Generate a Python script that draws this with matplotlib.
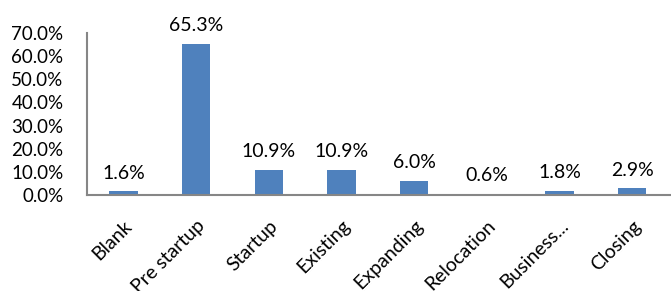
import matplotlib.pyplot as plt
from matplotlib.ticker import PercentFormatter

categories = ['Blank', 'Pre startup', 'Startup', 'Existing', 'Expanding',
              'Relocation', 'Business...', 'Closing']
values = [1.6, 65.3, 10.9, 10.9, 6.0, 0.6, 1.8, 2.9]
yticks = [0, 10, 20, 30, 40, 50, 60, 70]

plt.rcParams['font.family'] = ['Lato', 'DejaVu Sans']

fig = plt.figure(figsize=(6.71, 2.91), dpi=100)
ax = fig.add_axes([0.130, 0.330, 0.875, 0.557])

x = range(len(categories))
bars = ax.bar(x, values, width=0.39, color='#4F81BD')

for rect, v in zip(bars, values):
    ax.annotate(f'{v:.1f}%', (rect.get_x() + rect.get_width() / 2, v),
                xytext=(0, 7), textcoords='offset points',
                ha='center', va='bottom', fontsize=14, color='black')

ax.set_xlim(-0.5, len(categories) - 0.42)
ax.set_ylim(0, 70)
ax.set_yticks(yticks)
ax.yaxis.set_major_formatter(PercentFormatter(decimals=1))
ax.set_xticks(list(x))
ax.set_xticklabels(categories, rotation=45, ha='right', rotation_mode='anchor')

ax.tick_params(axis='y', length=0, labelsize=13.5, pad=17)
ax.tick_params(axis='x', length=0, labelsize=14, pad=16)

for s in ['top', 'right']:
    ax.spines[s].set_visible(False)
for s in ['left', 'bottom']:
    ax.spines[s].set_color('#868686')
    ax.spines[s].set_linewidth(1.5)

fig.savefig('out.png', dpi=100)
